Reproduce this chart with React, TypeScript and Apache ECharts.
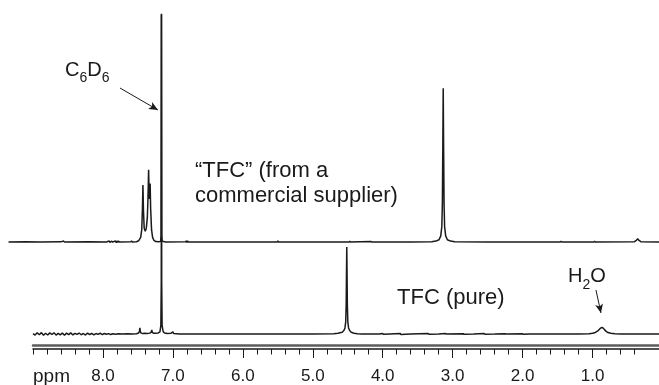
import React, { useEffect, useRef } from 'react';
import * as echarts from 'echarts';

// ppm, intensity (commercial peak at 3.13 ppm = 100)
const commercialSpectrum: [number, number][] = [
  [9.35, 0], [9.1, 0.1], [8.9, 0], [8.6, 0.1], [8.565, 0.6], [8.55, 0], [8.2, 0.1], [7.95, 0],
  [7.91, 0.6], [7.9, -0.3], [7.88, 0.5], [7.86, 0], [7.82, 0.7], [7.81, -0.4], [7.8, 0.7], [7.79, -0.3], [7.78, 0.5], [7.76, 0],
  [7.6, 0.1], [7.59, 0.6], [7.58, 0], [7.52, 0.2],
  [7.49, 0.8], [7.46, 3], [7.445, 8], [7.435, 22], [7.428, 37], [7.42, 20], [7.41, 9], [7.395, 7], [7.38, 9],
  [7.365, 16], [7.355, 30], [7.347, 47], [7.34, 32], [7.333, 28], [7.325, 38], [7.318, 22], [7.305, 8], [7.29, 3],
  [7.27, 1], [7.245, 0.3], [7.2, 0.1],
  [7.175, 0.5], [7.168, 4], [7.164, 148], [7.16, 4], [7.152, 0.5],
  [7.1, 0], [6.82, 0.1], [6.81, 0.7], [6.8, -0.3], [6.79, 0.7], [6.78, 0], [6.5, 0], [5.51, 0], [5.5, 0.6], [5.49, 0],
  [4.48, 0], [4.47, 0.5], [4.46, 0], [4.17, 0.4], [4.16, 0], [3.6, 0],
  [3.3, 0.2], [3.24, 0.6], [3.195, 1.5], [3.17, 4], [3.155, 10], [3.147, 25], [3.141, 60], [3.135, 100],
  [3.129, 60], [3.123, 25], [3.115, 10], [3.1, 4], [3.075, 1.5], [3.03, 0.6], [2.97, 0.2],
  [2.5, 0], [1.46, 0], [1.45, 0.4], [1.44, 0], [0.98, 0], [0.97, 0.4], [0.96, 0],
  [0.4, 0.2], [0.37, 1.2], [0.355, 2.2], [0.34, 1.2], [0.31, 0.2], [0.05, 0],
];

// ppm, intensity (pure TFC peak at 4.51 ppm = 100)
const pureSpectrum: [number, number][] = [
  [9.0, 0.5], [8.97, -1.2], [8.94, 1.4], [8.91, -0.8], [8.88, 1.6], [8.85, -1.4], [8.82, 0.9], [8.79, -1.1],
  [8.76, 1.3], [8.73, -0.6], [8.7, 1.5], [8.67, -1.3], [8.64, 0.7], [8.61, -1.0], [8.58, 1.2], [8.55, -1.4],
  [8.52, 1.0], [8.49, -0.7], [8.46, 1.3], [8.43, -1.1], [8.4, 0.8], [8.37, -0.5], [8.34, 1.1], [8.31, -0.9],
  [8.28, 0.6], [8.25, -1.2], [8.22, 1.0], [8.19, -0.6], [8.16, 0.8], [8.13, -0.9], [8.1, 0.5], [8.07, -0.4],
  [8.04, 0.9], [8.01, -0.7], [7.98, 0.6], [7.95, -0.3], [7.92, 0.4], [7.89, -0.5], [7.86, 0.3], [7.82, -0.2],
  [7.78, 0.3], [7.72, 0], [7.65, 0.2], [7.58, 0],
  [7.52, 0.3], [7.49, 1.2], [7.478, 3], [7.472, 7], [7.466, 3], [7.455, 1], [7.43, 0.6], [7.4, 0.8], [7.37, 0.5],
  [7.33, 1], [7.31, 2], [7.302, 4.6], [7.295, 2], [7.28, 1], [7.25, 0.8], [7.21, 1.2], [7.185, 2.5],
  [7.172, 10], [7.166, 60], [7.163, 368], [7.16, 60], [7.154, 10], [7.14, 3], [7.12, 1.2], [7.08, 0.6],
  [7.03, 0.8], [7.0, 2.5], [6.99, 0.5], [6.9, 0], [5.5, 0], [5.0, 0.1], [4.7, 0.3], [4.64, 0.9],
  [4.58, 2], [4.555, 4], [4.54, 7], [4.529, 14], [4.522, 35], [4.518, 70], [4.514, 100], [4.51, 70],
  [4.506, 35], [4.499, 14], [4.488, 7], [4.473, 4], [4.45, 2], [4.41, 0.9], [4.36, 0.3], [4.3, 0],
  [4.05, 0], [4.0, 0.6], [3.99, -0.4], [3.9, 0], [3.75, 0.5], [3.74, -0.5], [3.6, 0], [3.35, 0.6], [3.34, -0.3],
  [3.2, 0], [3.1, 0.5], [3.09, 0], [2.85, 0.4], [2.84, -0.4], [2.7, 0], [2.55, 0.5], [2.54, -0.3], [2.4, 0],
  [2.25, 0.4], [2.24, 0], [2.0, 0.3], [1.99, -0.3], [1.9, 0], [1.5, 0], [1.2, 0.1],
  [1.05, 0.3], [1.0, 0.8], [0.96, 1.8], [0.93, 3.2], [0.905, 5.2], [0.885, 6.8], [0.866, 7.5], [0.848, 6.8],
  [0.83, 5], [0.805, 3], [0.78, 1.7], [0.74, 0.8], [0.68, 0.3], [0.6, 0.1], [0.3, 0], [0.05, 0],
];

const majorTicks = [8, 7, 6, 5, 4, 3, 2, 1];
const minorTicks = [
  9.0, 8.8, 8.6, 8.4, 8.2, 7.8, 7.6, 7.4, 7.2, 6.8, 6.6, 6.4, 6.2, 5.8, 5.6, 5.4, 5.2,
  4.8, 4.6, 4.4, 4.2, 3.8, 3.6, 3.4, 3.2, 2.8, 2.6, 2.4, 2.2, 1.8, 1.6, 1.4, 1.2, 0.8, 0.6, 0.4,
];

const xMin = 0.05;
const xMax = 9.0;
const xMaxTop = 9.35;
const yMaxTop = 149;
const yMaxBottom = 369;

const c6d6Arrow: [number, number][] = [[7.757, 282.8], [7.214, 257.5]];
const h2oArrow: [number, number][] = [[0.951, 50.6], [0.88, 24.1]];

export default function App() {
  const ref = useRef<HTMLDivElement>(null);
  useEffect(() => {
    document.body.style.margin = '0';
    const chart = echarts.init(ref.current!, null, { renderer: 'svg' });
    const font = 'Liberation Sans';
    const ink = '#1a1a1a';
    const sub = (size: number, pad: number) => ({ fontSize: size, fontFamily: font, fill: ink, padding: [pad, 0, 0, 0] });
    const main = (size: number) => ({ fontSize: size, fontFamily: font, fill: ink });
    chart.setOption({
      animation: false,
      grid: [
        { left: 8.5, right: 0, top: 13, bottom: 143 },
        { left: 33, right: 0, top: 13, bottom: 51 },
      ],
      xAxis: [
        { gridIndex: 0, type: 'value', min: xMin, max: xMaxTop, inverse: true, show: false },
        {
          gridIndex: 1, type: 'value', position: 'bottom', min: xMin, max: xMax, inverse: true, offset: 15,
          axisLine: { show: true, onZero: false, lineStyle: { color: ink, width: 1.5 } },
          axisTick: { show: true, customValues: majorTicks, length: 9, lineStyle: { color: ink, width: 1 } },
          axisLabel: {
            customValues: majorTicks, formatter: (v: number) => v.toFixed(1),
            fontSize: 17, color: ink, fontFamily: font, margin: 18,
          },
          splitLine: { show: false },
        },
        {
          gridIndex: 1, type: 'value', position: 'bottom', min: xMin, max: xMax, inverse: true, offset: 15,
          axisLine: { show: false, onZero: false },
          axisTick: { show: true, customValues: minorTicks, length: 5.5, lineStyle: { color: ink, width: 1 } },
          axisLabel: { show: false },
          splitLine: { show: false },
        },
        {
          gridIndex: 1, type: 'value', position: 'bottom', min: xMin, max: xMax, inverse: true, offset: 11,
          axisLine: { show: true, onZero: false, lineStyle: { color: '#5c5c5c', width: 2.5 } },
          axisTick: { show: false },
          axisLabel: { show: false },
          splitLine: { show: false },
        },
      ],
      yAxis: [
        { gridIndex: 0, type: 'value', min: 0, max: yMaxTop, show: false },
        { gridIndex: 1, type: 'value', min: 0, max: yMaxBottom, show: false },
      ],
      series: [
        {
          type: 'line', xAxisIndex: 0, yAxisIndex: 0, data: commercialSpectrum,
          symbol: 'none', clip: false, silent: true,
          lineStyle: { color: ink, width: 1.5 },
        },
        {
          type: 'line', xAxisIndex: 1, yAxisIndex: 1, data: pureSpectrum,
          symbol: 'none', clip: false, silent: true,
          lineStyle: { color: ink, width: 1.5 },
          markLine: {
            silent: true, symbol: ['none', 'arrow'], symbolSize: [6, 9],
            label: { show: false },
            lineStyle: { color: ink, width: 1, type: 'solid' },
            emphasis: { disabled: true },
            data: [
              [{ coord: c6d6Arrow[0] }, { coord: c6d6Arrow[1] }],
              [{ coord: h2oArrow[0] }, { coord: h2oArrow[1] }],
            ],
          },
        },
      ],
      graphic: [
        {
          type: 'text', x: 65, y: 69,
          style: {
            text: '{a|C}{s|6}{a|D}{s|6}', verticalAlign: 'middle',
            rich: { a: main(20), s: sub(14, 16) },
          },
        },
        {
          type: 'text', x: 568, y: 275,
          style: {
            text: '{a|H}{s|2}{a|O}', verticalAlign: 'middle',
            rich: { a: main(20), s: sub(14, 18) },
          },
        },
        {
          type: 'text', x: 195, y: 182,
          style: {
            text: '“TFC” (from a\ncommercial supplier)', fontSize: 22, lineHeight: 25,
            fontFamily: font, fill: ink, verticalAlign: 'middle',
          },
        },
        {
          type: 'text', x: 397, y: 296,
          style: { text: 'TFC (pure)', fontSize: 22, fontFamily: font, fill: ink, verticalAlign: 'middle' },
        },
        {
          type: 'text', x: 33, y: 375,
          style: { text: 'ppm', fontSize: 19, fontFamily: font, fill: ink, verticalAlign: 'middle' },
        },
      ],
    });
    return () => chart.dispose();
  }, []);
  return <div ref={ref} style={{ position: 'fixed', left: 0, top: 0, width: 659, height: 385 }} />;
}
